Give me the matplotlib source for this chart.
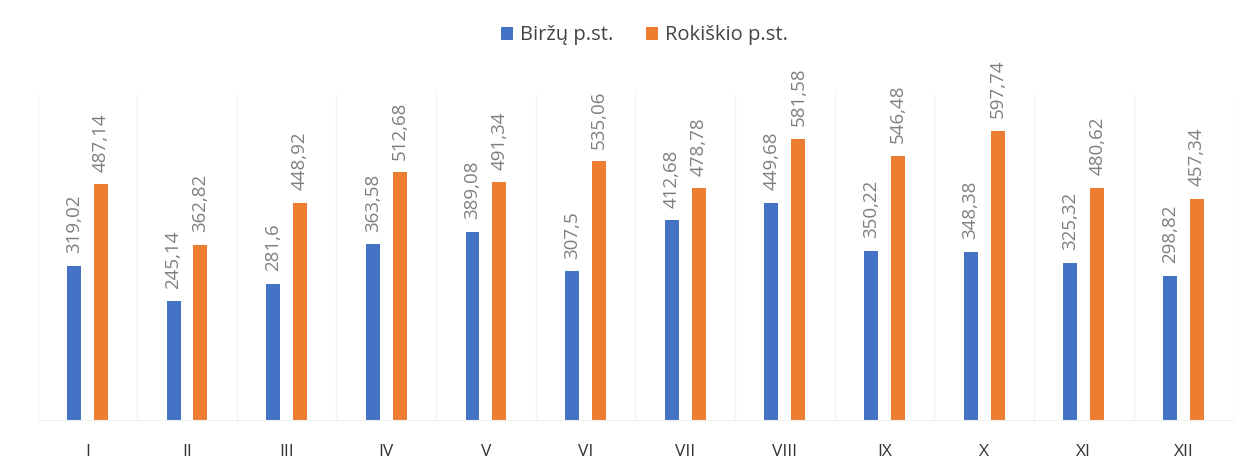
import matplotlib
matplotlib.use("Agg")
import matplotlib.pyplot as plt
import numpy as np

categories = ["I", "II", "III", "IV", "V", "VI", "VII", "VIII", "IX", "X", "XI", "XII"]
birzu = [319.02, 245.14, 281.6, 363.58, 389.08, 307.5, 412.68, 449.68, 350.22, 348.38, 325.32, 298.82]
rokiskio = [487.14, 362.82, 448.92, 512.68, 491.34, 535.06, 478.78, 581.58, 546.48, 597.74, 480.62, 457.34]
series_names = ["Biržų p.st.", "Rokiškio p.st."]

def fmt(v):
    s = ("%.2f" % v).rstrip("0").rstrip(".")
    return s.replace(".", ",")

plt.rcParams['font.family'] = ['Open Sans', 'DejaVu Sans']

fig = plt.figure(figsize=(12.52, 4.72), dpi=100)
ax = fig.add_axes([0.030, 0.110, 0.955, 0.742])

x = np.arange(len(categories))
w = 0.14
off = 0.135
b1 = ax.bar(x - off, birzu, w, color="#4472C4", label=series_names[0])
b2 = ax.bar(x + off, rokiskio, w, color="#ED7D31", label=series_names[1])

for bars, vals in ((b1, birzu), (b2, rokiskio)):
    for b, v in zip(bars, vals):
        ax.annotate(fmt(v), (b.get_x() + b.get_width() / 2, v), xytext=(0, 9),
                    textcoords="offset points", rotation=90, ha="center", va="bottom",
                    fontsize=13.5, color="#7f7f7f")

ax.set_xlim(-0.5, len(categories) - 0.5)
ax.set_ylim(0, 724)
for b in np.arange(-0.5, len(categories), 1.0):
    ax.axvline(b, ymax=0.93, color="#f3f3f3", lw=1, zorder=0)
ax.set_xticks(x)
ax.set_xticklabels(categories, fontsize=12.5, color="#333333")
ax.tick_params(axis="x", length=0, pad=17)
ax.set_yticks([])
for s in ["top", "right", "left"]:
    ax.spines[s].set_visible(False)
ax.spines["bottom"].set_color("#f0f0f0")

fig.legend(handles=[b1, b2], labels=series_names, loc="upper center",
           bbox_to_anchor=(0.515, 0.985), ncol=2, frameon=False, fontsize=14.5,
           handlelength=0.6, handleheight=0.6, columnspacing=1.6, handletextpad=0.35,
           labelcolor="#444444")

fig.savefig("out.png", dpi=100)
